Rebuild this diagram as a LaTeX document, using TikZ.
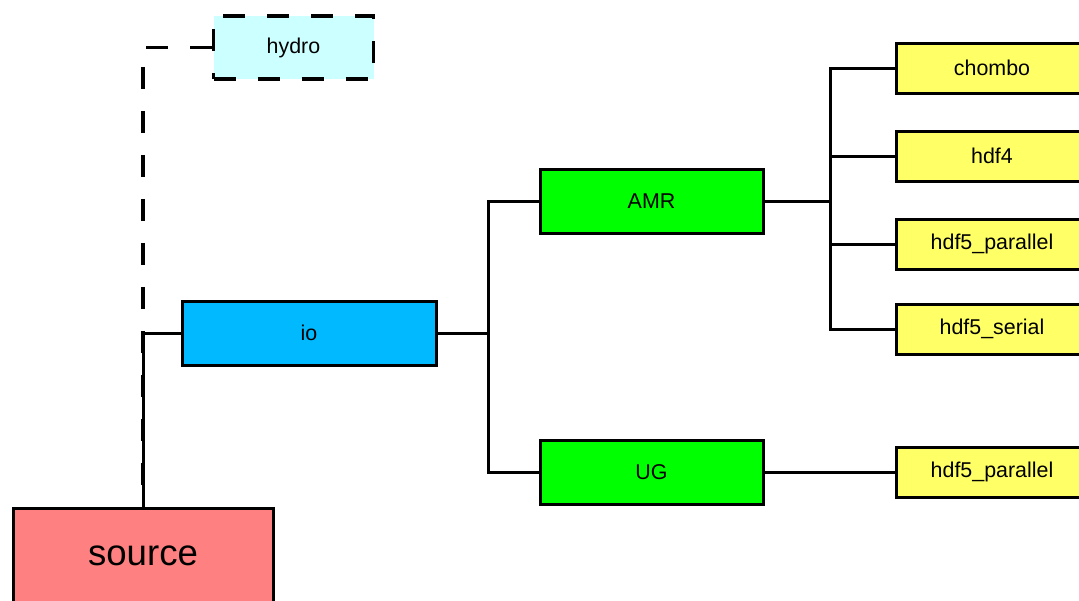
\documentclass[tikz,border=0pt]{standalone}
\usepackage{fontspec}
\setsansfont{Liberation Sans}
\usepackage{xcolor}
\definecolor{srcred}{RGB}{255,128,128}
\definecolor{hydrocyan}{RGB}{204,255,255}
\definecolor{ioblue}{RGB}{0,185,255}
\definecolor{meshgreen}{RGB}{0,255,0}
\definecolor{fmtyellow}{RGB}{255,255,102}
\tikzset{%
  % Specifications for style of nodes:
        base/.style = {rectangle, draw=black, line width=1.5pt,
                       inner sep=0pt, text centered,
                       font=\sffamily\fontsize{10.7}{13}\selectfont},
      srcbox/.style = {base, fill=srcred, minimum width=130pt,
                       minimum height=48pt,
                       font=\sffamily\fontsize{18.3}{22}\selectfont},
    hydrobox/.style = {base, fill=hydrocyan, minimum width=80pt,
                       minimum height=31.5pt, line width=1.8pt,
                       dash pattern=on 11pt off 11pt},
       iobox/.style = {base, fill=ioblue, minimum width=127pt,
                       minimum height=32pt},
     meshbox/.style = {base, fill=meshgreen, minimum width=111.5pt,
                       minimum height=32pt},
      fmtbox/.style = {base, fill=fmtyellow, minimum width=96pt,
                       minimum height=25pt},
        link/.style = {draw=black, line width=1.5pt},
   dashlink/.style = {draw=black, line width=1.8pt,
                      dash pattern=on 11pt off 11pt},
}
\begin{document}
\begin{tikzpicture}[x=0.5pt, y=-0.5pt]
  \useasboundingbox (0,0) rectangle (1079,600);
  \clip (0,0) rectangle (1079,600);
  % Specification of nodes (position, etc.)
  \node (src)    [srcbox]   at (143,556)   {source};
  \node (hydro)  [hydrobox] at (293.5,47.5) {hydro};
  \node (io)     [iobox]    at (309,333)   {io};
  \node (amr)    [meshbox]  at (651.5,201.5) {AMR};
  \node (ug)     [meshbox]  at (651.5,472) {UG};
  \node (chombo) [fmtbox]   at (992,68)    {chombo};
  \node (hdf4)   [fmtbox]   at (992,156)   {hdf4};
  \node (amrpar) [fmtbox]   at (992,244)   {hdf5\_parallel};
  \node (amrser) [fmtbox]   at (992,329)   {hdf5\_serial};
  \node (ugpar)  [fmtbox]   at (992,472)   {hdf5\_parallel};
  % branch points
  \coordinate (iobus)  at (488,333);
  \coordinate (amrbus) at (830,201.5);
  % Specification of lines between nodes specified above
  \draw[dashlink] (hydro.west) -| (src.north);
  \draw[link]     (src.north) |- (io.west);
  \draw[link]     (io.east) -- (iobus);
  \draw[link]     (iobus) |- (amr.west);
  \draw[link]     (iobus) |- (ug.west);
  \draw[link]     (amr.east) -- (amrbus);
  \foreach \fmt in {chombo,hdf4,amrpar,amrser}
    \draw[link] (amrbus) |- (\fmt.west);
  \draw[link]     (ug.east) -- (ugpar.west);
\end{tikzpicture}
\end{document}
